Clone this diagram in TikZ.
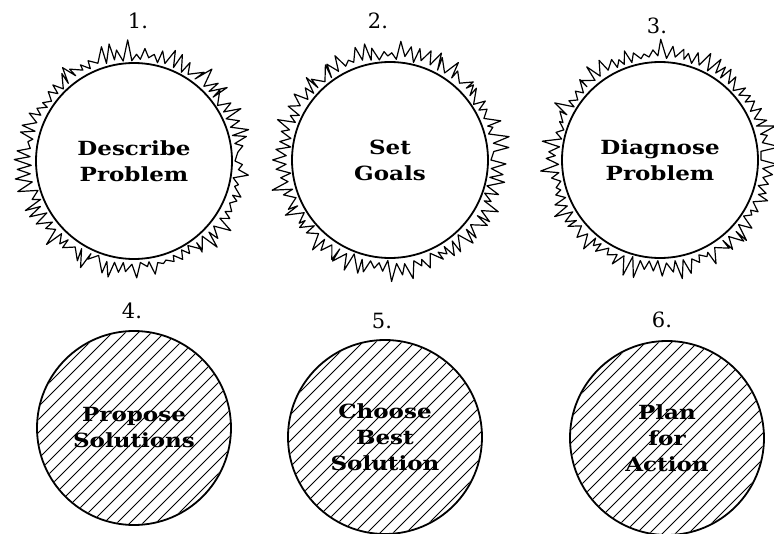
\documentclass[tikz,border=0pt]{standalone}
\usepackage{fontspec}
\setmainfont{DejaVu Serif}
\newfontfamily\stagefont{DejaVu Serif}[FakeStretch=1.18]
\usetikzlibrary{backgrounds}
\tikzset{
    stage/.style={circle, draw, line width=1.8pt, inner sep=0pt, align=center, font=\stagefont\bfseries\fontsize{19.5}{26}\selectfont},
    openstage/.style={stage, fill=white, minimum size=196pt},
    hatchstage/.style={stage, minimum size=194pt},
    hatch/.style={line width=0.9pt},
    numlabel/.style={anchor=base, font=\fontsize{21}{24}\selectfont},
    spikes/.style={line width=1.2pt, line join=round},
}

\begin{document}
\begin{tikzpicture}[x=1pt, y=-1pt]
    \useasboundingbox (0,0) rectangle (774,533);
    \pgfmathsetseed{7}

    % top row: open circles with a spiky rim
    \node[openstage] (describe) at (134,161) {Describe\\Problem};
    \node[openstage] (goals)    at (390,160) {Set\\Goals};
    \node[openstage] (diagnose) at (660,160) {Diagnose\\Problem};

    \foreach \c in {describe, goals, diagnose}{
        \begin{scope}[shift={(\c.center)}]
            \draw[spikes] (0:101) \foreach \a in {2.4,7.2,...,357.6}{
                -- ({\a+1.6*rnd-0.8}:{106+16*rnd}) -- ({\a+2.4}:{100+5*rnd}) } -- cycle;
        \end{scope}
    }

    % bottom row: hatched circles
    \node[hatchstage] (propose) at (134,428) {Propose\\Solutions};
    \node[hatchstage] (choose)  at (385,437) {Choose\\Best\\Solution};
    \node[hatchstage] (plan)    at (667,438) {Plan\\for\\Action};

    \begin{scope}[on background layer]
        \foreach \c in {propose, choose, plan}{
            \begin{scope}[shift={(\c.center)}]
                \clip (0,0) circle (96);
                \foreach \d in {-195,-182,...,195}
                    \draw[hatch] (\d-100,100) -- (\d+100,-100);
            \end{scope}
        }
    \end{scope}

    % step numbers
    \node[numlabel] (n1) at (138,28) {1.};
    \node[numlabel] (n2) at (378,28) {2.};
    \node[numlabel] (n3) at (657,33) {3.};
    \node[numlabel] (n4) at (132,318) {4.};
    \node[numlabel] (n5) at (382,328) {5.};
    \node[numlabel] (n6) at (662,327) {6.};
\end{tikzpicture}
\end{document}
